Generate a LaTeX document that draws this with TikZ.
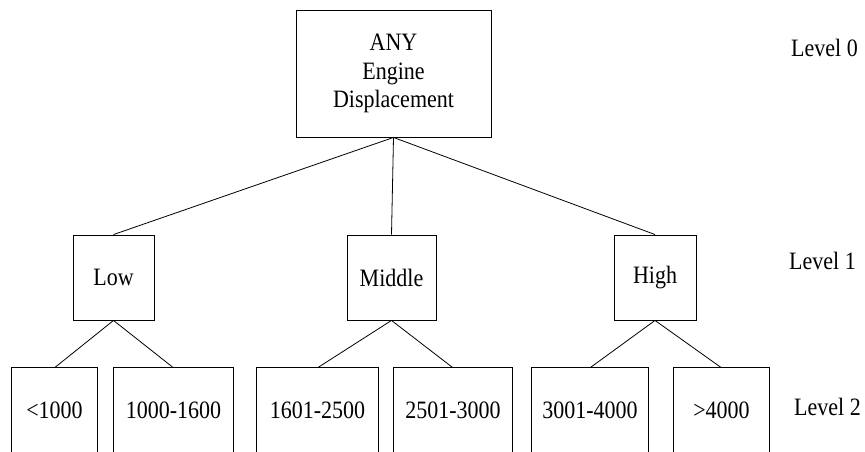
\documentclass[tikz,border=0pt]{standalone}
\usepackage{fontspec}
\setmainfont{Liberation Serif}[FakeStretch=0.88]
\begin{document}
\begin{tikzpicture}[x=1pt,y=-1pt,
  box/.style={draw,line width=0.9pt,inner sep=0pt,align=center,font=\fontsize{25}{28.5}\selectfont},
  open/.style={inner sep=0pt,align=center,font=\fontsize{25}{28.5}\selectfont},
  lvl/.style={anchor=base west,inner sep=0pt,font=\fontsize{25}{28.5}\selectfont},
  link/.style={line width=0.8pt}]
\useasboundingbox (0,0) rectangle (865,452);
% level 0
\node[box,minimum width=195pt,minimum height=127pt] (any) at (393.5,73.5) {ANY\\Engine\\Displacement};
% level 1
\node[box,minimum width=81pt,minimum height=85pt] (low) at (113.5,277.5) {Low};
\node[box,minimum width=89pt,minimum height=85pt] (mid) at (391.5,277.5) {Middle};
\node[box,minimum width=82pt,minimum height=85pt] (high) at (655,277.5) {High};
% level 2 (boxes cut by the lower edge)
\node[open,minimum width=85pt,minimum height=84pt] (a) at (54.5,410) {<1000};
\node[open,minimum width=119pt,minimum height=84pt] (b) at (173.5,410) {1000-1600};
\node[open,minimum width=121pt,minimum height=84pt] (c) at (317.5,410) {1601-2500};
\node[open,minimum width=118pt,minimum height=84pt] (d) at (453,410) {2501-3000};
\node[open,minimum width=116pt,minimum height=84pt] (e) at (590,410) {3001-4000};
\node[open,minimum width=95pt,minimum height=84pt] (f) at (721.5,410) {>4000};
\foreach \n in {a,b,c,d,e,f}
  \draw[line width=0.9pt] (\n.south west) -- (\n.north west) -- (\n.north east) -- (\n.south east);
% level labels
\node[lvl] (l0) at (791,57) {Level 0};
\node[lvl] (l1) at (789,269) {Level 1};
\node[lvl] (l2) at (794,415) {Level 2};
% connectors
\draw[link] (any.south) -- (low.north);
\draw[link] (any.south) -- (mid.north);
\draw[link] (any.south) -- (high.north);
\draw[link] (low.south) -- (a.north);
\draw[link] (low.south) -- (b.north);
\draw[link] (mid.south) -- (c.north);
\draw[link] (mid.south) -- (d.north);
\draw[link] (high.south) -- (e.north);
\draw[link] (high.south) -- (f.north);
\end{tikzpicture}
\end{document}
